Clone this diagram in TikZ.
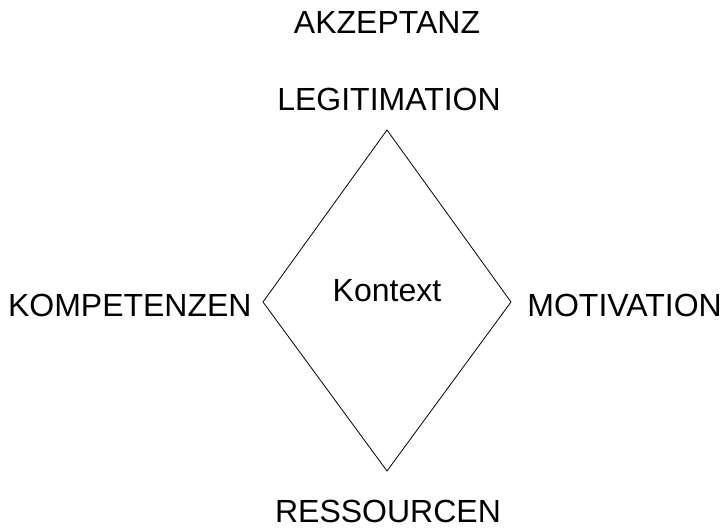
\documentclass[tikz,border=0pt]{standalone}
\usepackage{fontspec}
\setmainfont{Liberation Sans}
\usetikzlibrary{calc,positioning}

\begin{document}
\begin{tikzpicture}[x=0.5pt, y=-0.5pt, font=\fontsize{16}{19}\selectfont,
    lbl/.style={inner sep=0pt, anchor=base}]
    \useasboundingbox (0,0) rectangle (725,528);

    \coordinate (top) at (387,130);
    \coordinate (bot) at (387,471);
    \coordinate (lft) at (263,302);
    \coordinate (rgt) at (511,302);

    \draw[line width=0.4pt] (top)--(rgt)--(bot)--(lft)--cycle;

    \node[lbl](ctx) at (387,302){Kontext};

    \node[lbl](akz) at (387,34){AKZEPTANZ};
    \node[lbl](leg) at (389,111){LEGITIMATION};
    \node[lbl](res) at (388,523){RESSOURCEN};

    \node[lbl, anchor=base east](kom) at ($(lft)+(-11,15)$){KOMPETENZEN};
    \node[lbl, anchor=base west](mot) at ($(rgt)+(16,15)$){MOTIVATION};

\end{tikzpicture}
\end{document}
